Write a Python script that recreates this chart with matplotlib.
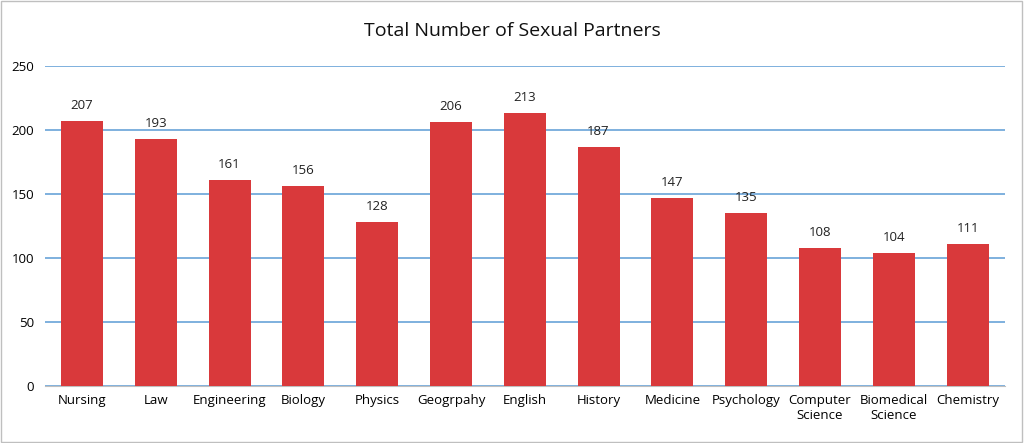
import matplotlib
matplotlib.use("Agg")
import matplotlib.pyplot as plt
from matplotlib.patches import Rectangle

categories = ["Nursing", "Law", "Engineering", "Biology", "Physics", "Geogrpahy", "English",
              "History", "Medicine", "Psychology", "Computer\nScience", "Biomedical\nScience", "Chemistry"]
values = [207, 193, 161, 156, 128, 206, 213, 187, 147, 135, 108, 104, 111]
yticks = [0, 50, 100, 150, 200, 250]

plt.rcParams['font.family'] = ['Open Sans', 'DejaVu Sans']
fig = plt.figure(figsize=(10.24, 4.43), dpi=100)
ax = fig.add_axes([0.044, 0.129, 0.937, 0.722])
x = list(range(len(categories)))
ax.bar(x, values, width=0.57, color="#D9393B", zorder=3)
for xi, v in zip(x, values):
    ax.text(xi, v + 7, str(v), ha="center", va="bottom", fontsize=9.5, color="#222222")
ax.set_ylim(0, 250)
ax.set_xlim(-0.5, len(categories) - 0.5)
ax.set_yticks(yticks)
ax.tick_params(axis="y", length=0, labelsize=9.5, pad=8)
ax.tick_params(axis="x", length=0, labelsize=9.5, pad=6)
ax.set_xticks(x)
ax.set_xticklabels(categories)
ax.yaxis.grid(True, color="#5B9BD5", linewidth=1.1, zorder=0)
for s in ["top", "right", "left"]:
    ax.spines[s].set_visible(False)
ax.spines["bottom"].set_color("#BFBFBF")
fig.text(0.5, 0.93, "Total Number of Sexual Partners", ha="center", va="center", fontsize=14, color="#111111")
fig.patches.append(Rectangle((0.001, 0.002), 0.997, 0.995, transform=fig.transFigure,
                             fill=False, edgecolor="#BFBFBF", linewidth=1))
fig.savefig("out.png", dpi=100)
